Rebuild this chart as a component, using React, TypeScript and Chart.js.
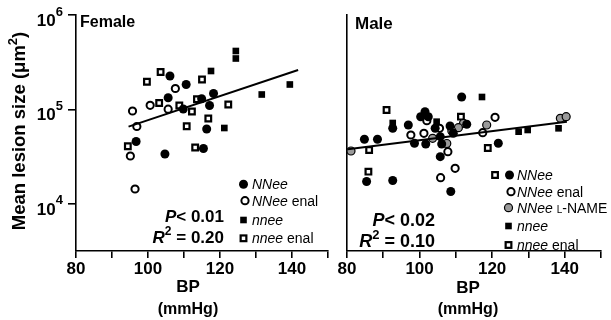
import React, { useEffect, useRef } from 'react';
import { Chart, registerables } from 'chart.js';

Chart.register(...registerables);

// ---------- data (BP in mmHg, lesion size in µm²) ----------
const xTickLabels = [80, 100, 120, 140];
const yTickValues = [1e4, 1e5, 1e6];

const femaleNNeeBP = [106.1, 110.6, 105.6, 109.8, 114.9, 118.2, 117.1, 116.3, 96.7, 104.7, 115.4];
const femaleNNeeSize = [226200, 183900, 133300, 101200, 130100, 147700, 110200, 62200, 45850, 33820, 38670];
const femaleNNeeEnalBP = [95.7, 100.6, 105.6, 107.6, 96.9, 95.1, 96.4];
const femaleNNeeEnalSize = [96400, 110800, 100700, 166800, 66100, 32200, 14410];
const femaleNneeBP = [117.5, 124.4, 124.4, 131.6, 139.4, 121.2];
const femaleNneeSize = [255500, 415900, 346500, 144100, 183900, 63700];
const femaleNneeEnalBP = [99.7, 103.5, 103.1, 108.7, 112.2, 113.6, 115.0, 116.75, 122.3, 110.75, 113.1, 94.4];
const femaleNneeEnalSize = [196500, 249400, 117200, 110200, 95200, 128200, 207800, 80300, 113000, 66400, 39600, 40800];
const femaleFitBP = [94.6, 141.7];
const femaleFitSize = [65800, 261800];

const maleNNeeBP = [111.6, 101.5, 100.3, 102.4, 96.9, 92.6, 84.8, 88.4, 98.6, 101.7, 104.3, 105.7, 108.4, 109.3, 113.0, 106.1, 121.7, 105.7, 85.4, 92.6, 108.6];
const maleNNeeSize = [135600, 94800, 83900, 83900, 68550, 63240, 48380, 48380, 43880, 43140, 63240, 51560, 66900, 55990, 69720, 43140, 43880, 31660, 17300, 17740, 13560];
const maleNNeeEnalBP = [120.8, 117.4, 97.6, 101.2, 102.0, 105.5, 107.8, 109.8, 105.8];
const maleNNeeEnalSize = [82700, 56820, 53720, 55990, 76120, 63240, 35760, 23870, 18980];
const maleLNameBP = [81.1, 138.8, 140.4, 118.5, 112.1, 110.7, 108.9, 107.5, 103.6];
const maleLNameSize = [36380, 80700, 83900, 68550, 71450, 64180, 59220, 43670, 49570];
const maleNneeBP = [117.2, 92.6, 104.7, 127.3, 129.8, 138.3];
const maleNneeSize = [135600, 71960, 74280, 58230, 60700, 63240];
const maleNneeEnalBP = [90.9, 111.4, 86.1, 85.9, 120.8, 118.8];
const maleNneeEnalSize = [98800, 83900, 37270, 21970, 20280, 39130];
const maleFitBP = [80.2, 140.6];
const maleFitSize = [37920, 74280];

// ---------- styling helpers ----------
const FF = '"Liberation Sans", Arial, Helvetica, sans-serif';
const fnt = (style: string, size: number) => `${style} ${size}px ${FF}`;

type Part = { t: string; f: string; dy?: number };

function drawParts(ctx: CanvasRenderingContext2D, parts: Part[], x: number, y: number, align: 'left' | 'right' | 'center') {
  const widths = parts.map((p) => {
    ctx.font = p.f;
    return ctx.measureText(p.t).width;
  });
  const total = widths.reduce((a, b) => a + b, 0);
  let cx = align === 'left' ? x : align === 'right' ? x - total : x - total / 2;
  ctx.textAlign = 'left';
  ctx.textBaseline = 'alphabetic';
  parts.forEach((p, i) => {
    ctx.font = p.f;
    ctx.fillText(p.t, cx, y + (p.dy || 0));
    cx += widths[i];
  });
}

type Kind = 'fc' | 'oc' | 'gc' | 'fs' | 'os';

const pointStyles: Record<Kind, any> = {
  fc: { pointStyle: 'circle', pointRadius: 4.5, pointBackgroundColor: '#000', pointBorderColor: '#000', pointBorderWidth: 0 },
  oc: { pointStyle: 'circle', pointRadius: 3.6, pointBackgroundColor: '#fff', pointBorderColor: '#000', pointBorderWidth: 2 },
  gc: { pointStyle: 'circle', pointRadius: 4, pointBackgroundColor: '#9a9a9a', pointBorderColor: '#000', pointBorderWidth: 1.2 },
  fs: { pointStyle: 'rect', pointRadius: 4.7, pointBackgroundColor: '#000', pointBorderColor: '#000', pointBorderWidth: 0 },
  os: { pointStyle: 'rect', pointRadius: 4, pointBackgroundColor: '#fff', pointBorderColor: '#000', pointBorderWidth: 2.2 },
};

function marker(ctx: CanvasRenderingContext2D, kind: Kind, x: number, y: number) {
  ctx.save();
  ctx.fillStyle = '#000';
  ctx.strokeStyle = '#000';
  if (kind === 'fc') {
    ctx.beginPath();
    ctx.arc(x, y, 4.5, 0, Math.PI * 2);
    ctx.fill();
  } else if (kind === 'oc') {
    ctx.beginPath();
    ctx.arc(x, y, 3.6, 0, Math.PI * 2);
    ctx.fillStyle = '#fff';
    ctx.fill();
    ctx.lineWidth = 2;
    ctx.stroke();
  } else if (kind === 'gc') {
    ctx.beginPath();
    ctx.arc(x, y, 4, 0, Math.PI * 2);
    ctx.fillStyle = '#9a9a9a';
    ctx.fill();
    ctx.lineWidth = 1.2;
    ctx.stroke();
  } else if (kind === 'fs') {
    const s = 6.6;
    ctx.fillRect(x - s / 2, y - s / 2, s, s);
  } else {
    const s = 5.7;
    ctx.fillStyle = '#fff';
    ctx.fillRect(x - s / 2, y - s / 2, s, s);
    ctx.lineWidth = 2.2;
    ctx.strokeRect(x - s / 2, y - s / 2, s, s);
  }
  ctx.restore();
}

function pts(xs: number[], ys: number[]) {
  return xs.map((x, i) => ({ x, y: ys[i] }));
}

function scatterSet(label: string, kind: Kind, xs: number[], ys: number[]) {
  return { label, data: pts(xs, ys), showLine: false, ...pointStyles[kind], pointHoverRadius: pointStyles[kind].pointRadius };
}

function fitSet(xs: number[], ys: number[]) {
  return { label: 'fit', data: pts(xs, ys), showLine: true, borderColor: '#000', borderWidth: 2, pointRadius: 0, pointHoverRadius: 0 };
}

function xScale(height: number) {
  return {
    type: 'linear',
    min: 80,
    max: 150,
    afterFit: (s: any) => {
      s.height = height;
    },
    ticks: {
      stepSize: 10,
      autoSkip: false,
      maxRotation: 0,
      minRotation: 0,
      padding: 1,
      color: '#000',
      font: { family: FF, size: 17, weight: 'bold' },
      callback: (v: any) => (xTickLabels.includes(Number(v)) ? String(v) : ''),
    },
    grid: { drawOnChartArea: false, drawTicks: true, tickLength: 7, color: '#000', lineWidth: 1.6 },
    border: { display: true, color: '#000', width: 1.6 },
  };
}

function yScale(width: number, showTicks: boolean) {
  return {
    type: 'logarithmic',
    min: 3180,
    max: 1e6,
    afterBuildTicks: (s: any) => {
      s.ticks = yTickValues.map((v) => ({ value: v }));
    },
    afterFit: (s: any) => {
      s.width = width;
    },
    ticks: { display: showTicks, callback: () => '', padding: 0 },
    grid: { display: showTicks, drawOnChartArea: false, drawTicks: true, tickLength: 8, color: '#000', lineWidth: 1.6 },
    border: { display: true, color: '#000', width: 1.6 },
  };
}

const femaleText = {
  id: 'femaleText',
  afterDraw(chart: any) {
    const ctx: CanvasRenderingContext2D = chart.ctx;
    const y = chart.scales.y;
    ctx.save();
    ctx.fillStyle = '#000';
    yTickValues.forEach((v) => {
      const py = y.getPixelForValue(v);
      const exp = String(Math.round(Math.log10(v)));
      drawParts(ctx, [{ t: '10', f: fnt('bold', 17) }, { t: exp, f: fnt('bold', 13), dy: -10.5 }], 63, py + 11, 'right');
    });
    ctx.save();
    ctx.translate(25, 131);
    ctx.rotate(-Math.PI / 2);
    drawParts(
      ctx,
      [
        { t: 'Mean lesion size (\u03bcm', f: fnt('bold', 18.5) },
        { t: '2', f: fnt('bold', 13), dy: -8 },
        { t: ')', f: fnt('bold', 18.5) },
      ],
      0,
      0,
      'center'
    );
    ctx.restore();
    drawParts(ctx, [{ t: 'Female', f: fnt('bold', 16) }], 80, 26.5, 'left');
    drawParts(ctx, [{ t: 'BP', f: fnt('bold', 17) }], 188, 292, 'center');
    drawParts(ctx, [{ t: '(mmHg)', f: fnt('bold', 16) }], 188, 313.5, 'center');
    drawParts(ctx, [{ t: 'P', f: fnt('italic bold', 17) }, { t: '< 0.01', f: fnt('bold', 17) }], 224, 221.7, 'right');
    drawParts(
      ctx,
      [
        { t: 'R', f: fnt('italic bold', 17) },
        { t: '2', f: fnt('bold', 12), dy: -8 },
        { t: ' = 0.20', f: fnt('bold', 17) },
      ],
      224,
      243.3,
      'right'
    );
    const rows: [Kind, number, number, Part[]][] = [
      ['fc', 243.5, 184.3, [{ t: 'NNee', f: fnt('italic', 14) }]],
      ['oc', 245, 200.7, [{ t: 'NNee', f: fnt('italic', 14) }, { t: ' enal', f: fnt('normal', 14) }]],
      ['fs', 243.5, 220, [{ t: 'nnee', f: fnt('italic', 14) }]],
      ['os', 243.5, 238.3, [{ t: 'nnee', f: fnt('italic', 14) }, { t: ' enal', f: fnt('normal', 14) }]],
    ];
    rows.forEach(([k, mx, my, parts]) => {
      marker(ctx, k, mx, my);
      ctx.fillStyle = '#000';
      drawParts(ctx, parts, 252, my + 5, 'left');
    });
    ctx.restore();
  },
};

const maleText = {
  id: 'maleText',
  afterDraw(chart: any) {
    const ctx: CanvasRenderingContext2D = chart.ctx;
    ctx.save();
    ctx.fillStyle = '#000';
    // canvas is offset 300px from page left
    const ox = -300;
    drawParts(ctx, [{ t: 'Male', f: fnt('bold', 17) }], 355 + ox, 29, 'left');
    drawParts(ctx, [{ t: 'BP', f: fnt('bold', 17) }], 468 + ox, 292.5, 'center');
    drawParts(ctx, [{ t: '(mmHg)', f: fnt('bold', 16) }], 468 + ox, 313.5, 'center');
    drawParts(ctx, [{ t: 'P', f: fnt('italic bold', 18) }, { t: '< 0.02', f: fnt('bold', 18) }], 435 + ox, 226, 'right');
    drawParts(
      ctx,
      [
        { t: 'R', f: fnt('italic bold', 18) },
        { t: '2', f: fnt('bold', 13), dy: -8 },
        { t: ' = 0.10', f: fnt('bold', 18) },
      ],
      435 + ox,
      246.5,
      'right'
    );
    const rows: [Kind, number, number, Part[]][] = [
      ['fc', 509.5, 175, [{ t: 'NNee', f: fnt('italic', 14) }]],
      ['oc', 511, 191.7, [{ t: 'NNee', f: fnt('italic', 14) }, { t: ' enal', f: fnt('normal', 14) }]],
      [
        'gc',
        508.5,
        207.7,
        [
          { t: 'NNee ', f: fnt('italic', 14) },
          { t: 'L', f: fnt('normal', 10) },
          { t: '-NAME', f: fnt('normal', 14) },
        ],
      ],
      ['fs', 508.5, 226, [{ t: 'nnee', f: fnt('italic', 14) }]],
      ['os', 508.5, 245, [{ t: 'nnee', f: fnt('italic', 14) }, { t: ' enal', f: fnt('normal', 14) }]],
    ];
    rows.forEach(([k, mx, my, parts]) => {
      marker(ctx, k, mx + ox, my);
      ctx.fillStyle = '#000';
      drawParts(ctx, parts, 517 + ox, my + 5, 'left');
    });
    ctx.restore();
  },
};

export default function App() {
  const leftRef = useRef<HTMLCanvasElement>(null);
  const rightRef = useRef<HTMLCanvasElement>(null);

  useEffect(() => {
    const common = {
      responsive: false,
      animation: false,
      events: [],
      plugins: { legend: { display: false }, tooltip: { enabled: false } },
    };
    const left = new Chart(leftRef.current as HTMLCanvasElement, {
      type: 'scatter',
      data: {
        datasets: [
          fitSet(femaleFitBP, femaleFitSize),
          scatterSet('NNee', 'fc', femaleNNeeBP, femaleNNeeSize),
          scatterSet('NNee enal', 'oc', femaleNNeeEnalBP, femaleNNeeEnalSize),
          scatterSet('nnee', 'fs', femaleNneeBP, femaleNneeSize),
          scatterSet('nnee enal', 'os', femaleNneeEnalBP, femaleNneeEnalSize),
        ] as any,
      },
      options: {
        ...common,
        layout: { padding: { top: 15, right: 12, bottom: 0, left: 0 } },
        scales: { x: xScale(69), y: yScale(76, true) } as any,
      } as any,
      plugins: [femaleText],
    });
    const right = new Chart(rightRef.current as HTMLCanvasElement, {
      type: 'scatter',
      data: {
        datasets: [
          fitSet(maleFitBP, maleFitSize),
          scatterSet('NNee', 'fc', maleNNeeBP, maleNNeeSize),
          scatterSet('NNee enal', 'oc', maleNNeeEnalBP, maleNNeeEnalSize),
          scatterSet('NNee L-NAME', 'gc', maleLNameBP, maleLNameSize),
          scatterSet('nnee', 'fs', maleNneeBP, maleNneeSize),
          scatterSet('nnee enal', 'os', maleNneeEnalBP, maleNneeEnalSize),
        ] as any,
      },
      options: {
        ...common,
        layout: { padding: { top: 15, right: 10, bottom: 0, left: 0 } },
        scales: { x: xScale(69), y: yScale(47, false) } as any,
      } as any,
      plugins: [maleText],
    });
    return () => {
      left.destroy();
      right.destroy();
    };
  }, []);

  return (
    <div style={{ position: 'fixed', left: 0, top: 0, width: 611, height: 320, background: '#fff' }}>
      <canvas ref={leftRef} width={340} height={320} style={{ position: 'absolute', left: 0, top: 0, width: 340, height: 320 }} />
      <canvas ref={rightRef} width={311} height={320} style={{ position: 'absolute', left: 300, top: 0, width: 311, height: 320 }} />
    </div>
  );
}
